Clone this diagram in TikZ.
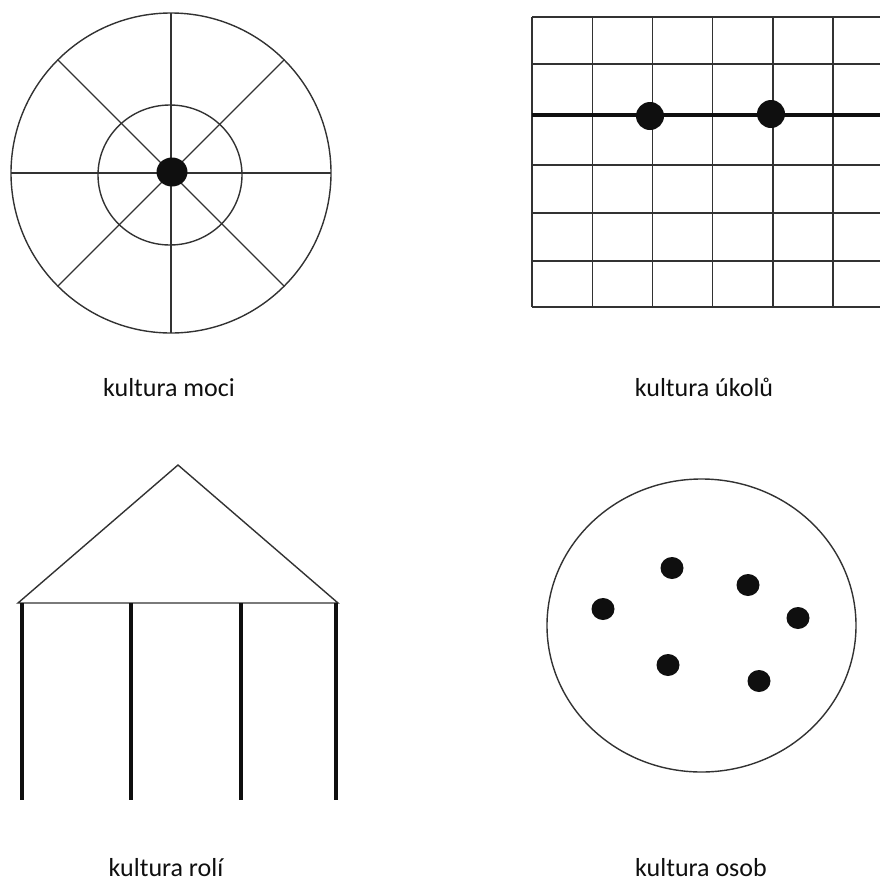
\documentclass[tikz,border=0pt]{standalone}
\usepackage{fontspec}
\setmainfont{Carlito}
\usetikzlibrary{positioning}
\definecolor{inkblack}{RGB}{15,15,15}
\definecolor{linegrey}{RGB}{50,50,50}

\begin{document}
\begin{tikzpicture}[x=1pt, y=-1pt,
    thinline/.style={linegrey, line width=1.4pt},
    thickline/.style={inkblack, line width=4.5pt},
    blob/.style={fill=inkblack},
    caption/.style={anchor=base, inner sep=0pt, text=inkblack, font=\fontsize{26}{30}\selectfont}]
  \useasboundingbox (0,0) rectangle (880,884);

  % Power culture: web with a centre
  \coordinate (pcentre) at (171,173);
  \draw[thinline] (pcentre) circle [radius=160];
  \draw[thinline] (170,175) ellipse [x radius=72, y radius=70];
  \foreach \a in {0,45,...,315}{
    \draw[thinline] (pcentre) -- ++(\a:160);
  }
  \fill[blob] (172,172) ellipse [x radius=15.5, y radius=14.5];
  \node[caption] (lblPower) at (169,396) {kultura moci};

  % Task culture: grid with a line
  \begin{scope}
    \clip (520,0) rectangle (880,330);
    \foreach \i in {0,...,6}{
      \draw[thinline] ({532+60.2*\i},17) -- ({532+60.2*\i},307);
    }
    \foreach \gy in {17,64,165,213,261,307}{
      \draw[thinline] (532,\gy) -- (890,\gy);
    }
    \draw[thickline] (532,115) -- (890,115);
  \end{scope}
  \fill[blob] (650,116) circle [radius=14];
  \fill[blob] (771,114) circle [radius=14];
  \node[caption] (lblTask) at (704,396) {kultura úkolů};

  % Role culture: temple
  \draw[thinline] (18,603) -- (178,465) -- (338,603) -- cycle;
  \foreach \px in {22,131,241,336}{
    \draw[thickline, line width=4pt] (\px,603) -- (\px,800);
  }
  \node[caption] (lblRole) at (166,876) {kultura rolí};

  % Person culture: loose dots
  \draw[thinline] (701.5,625.5) ellipse [x radius=154.5, y radius=146.5];
  \foreach \dx/\dy in {672/568, 748/585, 603/609, 798/618, 668/665, 759/681}{
    \fill[blob] (\dx,\dy) ellipse [x radius=11.5, y radius=11];
  }
  \node[caption] (lblPerson) at (701,876) {kultura osob};
\end{tikzpicture}
\end{document}
